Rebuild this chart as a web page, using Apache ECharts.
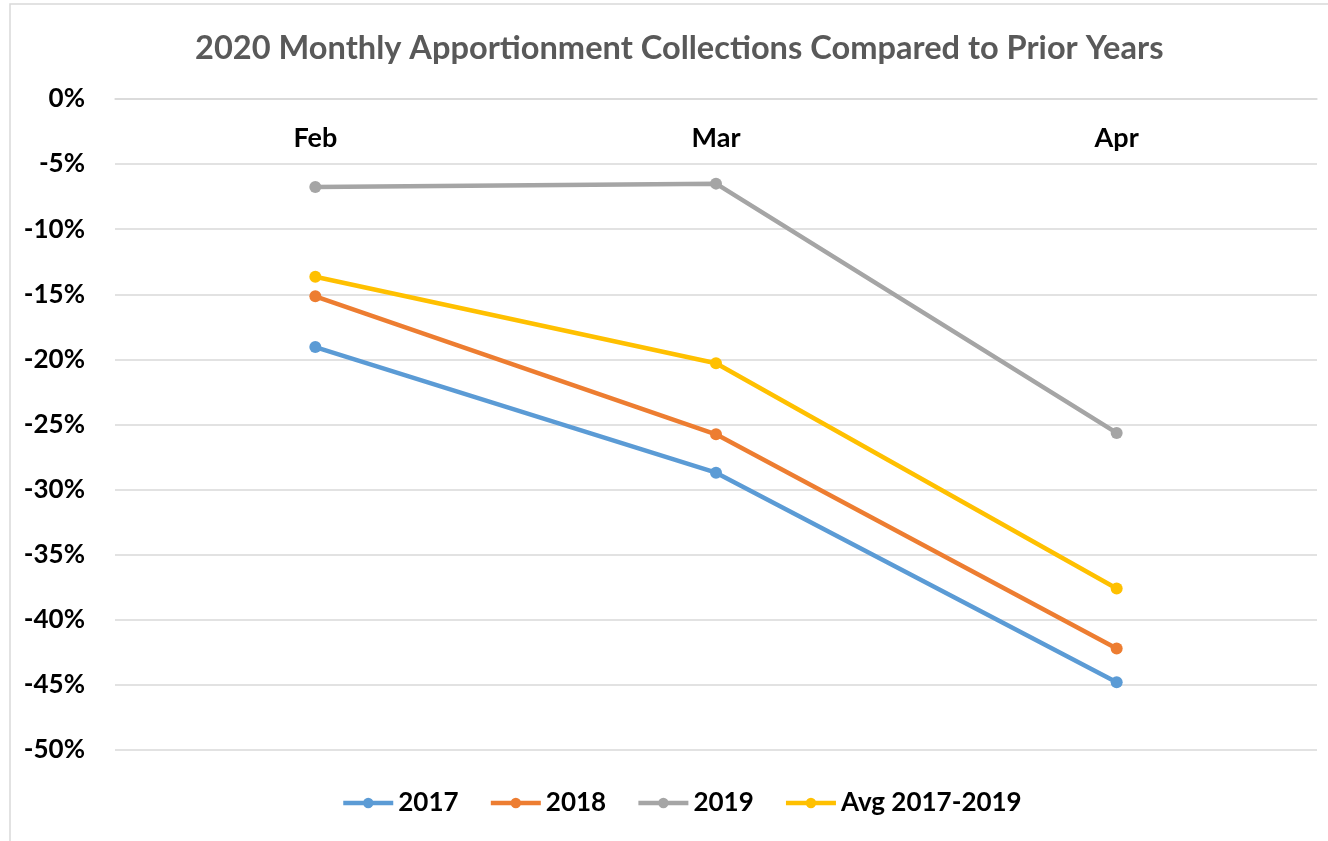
<!DOCTYPE html>
<html>
<head>
<meta charset="utf-8">
<script src="https://cdn.jsdelivr.net/npm/echarts@6/dist/echarts.min.js"></script>
<style>
html,body{margin:0;padding:0;background:#fff;}
#chart{width:1328px;height:841px;}
</style>
</head>
<body>
<div id="chart"></div>
<script>
const categories = ['Feb', 'Mar', 'Apr'];
const s2017 = [-19.05, -28.7, -44.8];
const s2018 = [-15.15, -25.75, -42.2];
const s2019 = [-6.75, -6.5, -25.65];
const sAvg = [-13.65, -20.3, -37.6];
const seriesNames = ['2017', '2018', '2019', 'Avg 2017-2019'];
const yTicks = { min: -50, max: 0, interval: 5 };

const colors = ['#5B9BD5', '#ED7D31', '#A5A5A5', '#FFC000'];
const font = 'Lato, "Open Sans", "Noto Sans", sans-serif';
const chart = echarts.init(document.getElementById('chart'), null, { renderer: 'canvas' });

function mk(name, data, i) {
  return {
    name: name, type: 'line', data: data,
    symbol: 'circle', symbolSize: 12,
    lineStyle: { width: 4.5, color: colors[i] },
    itemStyle: { color: colors[i] },
    emphasis: { disabled: true }
  };
}

chart.setOption({
  animation: false,
  color: colors,
  graphic: [{
    type: 'rect', shape: { x: 10, y: 4, width: 1330, height: 850 },
    style: { fill: 'none', stroke: '#D9D9D9', lineWidth: 1.5 }, silent: true, z: -1
  }],
  title: {
    text: '2020 Monthly Apportionment Collections Compared to Prior Years',
    left: 190, top: 27,
    textStyle: { fontFamily: font, fontWeight: 'bold', fontSize: 32.6, color: '#595959' }
  },
  legend: {
    bottom: 20, left: 336, itemWidth: 50, itemHeight: 13, itemGap: 30,
    data: seriesNames,
    lineStyle: { width: 4.5 },
    textStyle: { fontFamily: font, fontWeight: 'bold', fontSize: 26, color: '#000' }
  },
  grid: { left: 115, right: 11, top: 99, bottom: 91 },
  xAxis: {
    type: 'category', data: categories, position: 'top', boundaryGap: true,
    axisLine: { show: true, lineStyle: { color: '#D9D9D9', width: 1.5 } },
    axisTick: { show: false },
    axisLabel: { inside: true, margin: 26, fontFamily: font, fontWeight: 'bold', fontSize: 27, color: '#000' }
  },
  yAxis: {
    type: 'value', min: yTicks.min, max: yTicks.max, interval: yTicks.interval,
    axisLine: { show: false }, axisTick: { show: false },
    splitLine: { lineStyle: { color: '#D9D9D9', width: 1.5 } },
    axisLabel: { margin: 30, formatter: v => v + '%', fontFamily: font, fontWeight: 'bold', fontSize: 26, color: '#000' }
  },
  series: [mk(seriesNames[0], s2017, 0), mk(seriesNames[1], s2018, 1), mk(seriesNames[2], s2019, 2), mk(seriesNames[3], sAvg, 3)]
});
</script>
</body>
</html>
